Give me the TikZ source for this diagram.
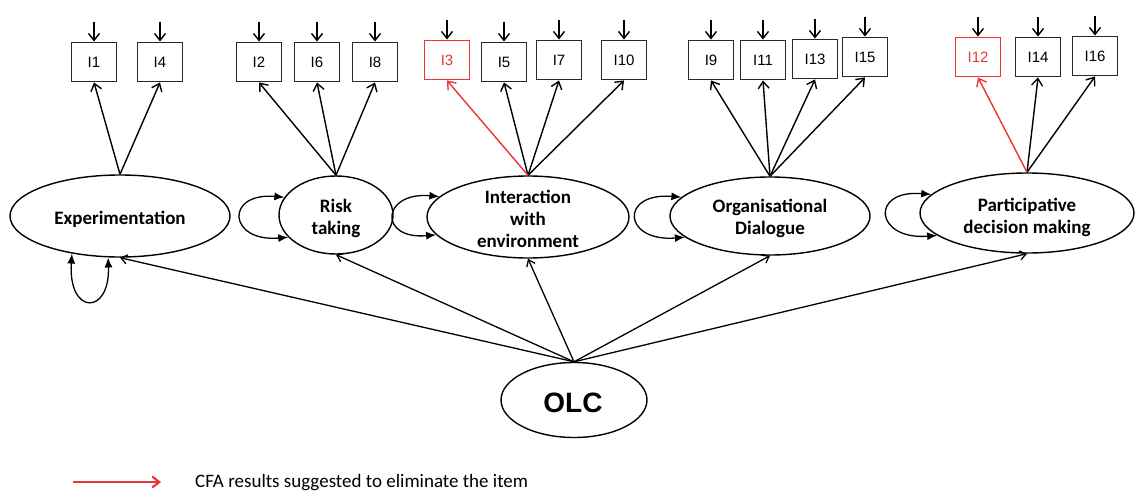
\documentclass[tikz,border=0pt]{standalone}
\usepackage{fontspec}
\setmainfont{Carlito}
\newfontfamily\arialfont{Liberation Sans}
\usetikzlibrary{shapes.geometric,arrows.meta}
\definecolor{dropred}{RGB}{236,52,52}
\definecolor{boxline}{RGB}{40,40,40}
\begin{document}
\begin{tikzpicture}[x=1pt,y=-1pt,
  item/.style={draw=boxline, line width=1.9pt, minimum width=45pt, minimum height=39pt,
    inner sep=0pt, font=\arialfont\fontsize{15}{17}\selectfont},
  dropped/.style={item, draw=dropred, text=dropred},
  latent/.style={ellipse, draw, line width=1.4pt, inner sep=0pt},
  ltext/.style={align=center, inner sep=0pt, font=\bfseries\fontsize{19}{22}\selectfont},
  load/.style={-{Straight Barb[length=7pt,width=11pt]}, line width=1.4pt},
  path/.style={-{Straight Barb[length=6pt,width=9pt]}, line width=1.3pt},
  cov/.style={{Latex[length=10pt,width=8pt]}-{Latex[length=10pt,width=8pt]}, line width=1.3pt},
]
\useasboundingbox (0,0) rectangle (1137,495);

% observed items
\foreach \n/\x/\y in {1/94/62, 4/160/62, 2/259/62, 6/317/62, 8/375/62,
                      5/504/62, 7/559/60, 10/624/60, 9/711/60, 11/763/60,
                      13/815/59, 15/865/57, 14/1038/57, 16/1095/56}
  \node[item] (i\n) at (\x,\y) {I\n};
\node[dropped] (i3) at (447,60) {I3};
\node[dropped] (i12) at (978,57) {I12};

% error terms on the items
\foreach \n in {1,2,3,4,5,6,7,8,9,10,11,12,13,14,15,16} {
  \coordinate (e\n) at ([yshift=20pt]i\n.north);
  \draw[load] (e\n) -- (i\n.north);
}

% latent factors
\node[latent, minimum width=220pt, minimum height=82pt] (exp) at (120,216) {};
\node[ltext] (exp-t) at (120,219) {Experimentation};
\node[latent, minimum width=114pt, minimum height=78pt] (risk) at (336,215) {};
\node[ltext] (risk-t) at (336,218) {Risk\\taking};
\node[latent, minimum width=202pt, minimum height=82pt] (inter) at (528,217) {};
\node[ltext] (inter-t) at (528,219) {Interaction\\with\\environment};
\node[latent, minimum width=200pt, minimum height=78pt] (org) at (770,216) {};
\node[ltext] (org-t) at (770,218) {Organisational\\Dialogue};
\node[latent, minimum width=214pt, minimum height=80pt] (part) at (1027,213) {};
\node[ltext] (part-t) at (1027,217) {Participative\\decision making};
\node[latent, minimum width=146pt, minimum height=75pt] (olc) at (574,400) {};
\node[inner sep=0pt, font=\arialfont\bfseries\fontsize{28}{32}\selectfont] (olc-t) at (573,403) {OLC};

% factor loadings
\foreach \f/\n in {exp/1, exp/4, risk/2, risk/6, risk/8, inter/5, inter/7, inter/10,
                   org/9, org/11, org/13, org/15, part/14, part/16}
  \draw[load] (\f.north) -- (i\n.south);
\draw[load, dropred] (inter.north) -- (i3.south);
\draw[load, dropred] (part.north) -- (i12.south);

% second-order paths
\foreach \f in {exp, risk, inter, org, part}
  \draw[path] (olc.north) -- (\f.south);

% residual variances
\draw[cov] (exp.218) .. controls +(-4,62) and +(2,58) .. (exp.254);
\draw[cov] (risk.161) .. controls +(-60,-5) and +(-60,5) .. (risk.205);
\draw[cov] (inter.167) .. controls +(-58,-5) and +(-58,5) .. (inter.191);
\draw[cov] (org.168) .. controls +(-62,-5) and +(-62,5) .. (org.194);
\draw[cov] (part.169) .. controls +(-62,-5) and +(-62,5) .. (part.194);

% legend
\coordinate (lg-a) at (73,482);
\coordinate (lg-b) at (161,482);
\draw[load, dropred, line width=2.2pt] (lg-a) -- (lg-b);
\node[anchor=west, inner sep=0pt, font=\fontsize{19}{22}\selectfont] (lg-t) at (195,483)
  {CFA results suggested to eliminate the item};
\end{tikzpicture}
\end{document}
